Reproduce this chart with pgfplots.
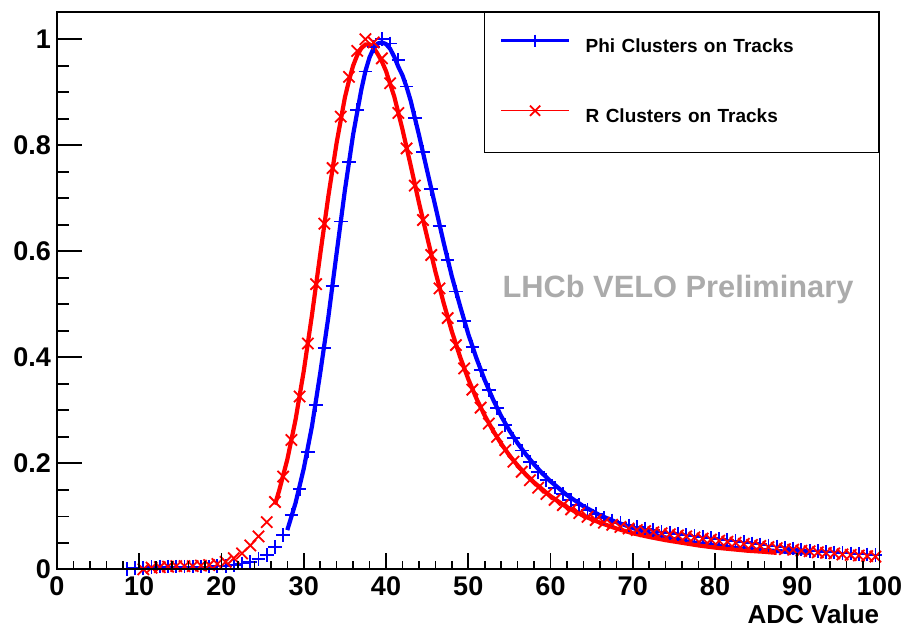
\documentclass[border=0pt]{standalone}
\usepackage{pgfplots}
\usepackage{pgfplotstable}
\pgfplotsset{compat=1.18}
\usepackage{fontspec}
\setmainfont{Liberation Sans}

\pgfplotstableread{
x y
8.5 0.001
9.5 0.002
10.5 0.003
11.5 0.004
12.5 0.005
13.5 0.005
14.5 0.005
15.5 0.005
16.5 0.005
17.5 0.005
18.5 0.005
19.5 0.006
20.5 0.006
21.5 0.008
22.5 0.011
23.5 0.014
24.5 0.020
25.5 0.027
26.5 0.042
27.5 0.065
28.5 0.102
29.5 0.152
30.5 0.222
31.5 0.310
32.5 0.418
33.5 0.535
34.5 0.656
35.5 0.769
36.5 0.867
37.5 0.939
38.5 0.986
39.5 1.000
40.5 0.992
41.5 0.961
42.5 0.911
43.5 0.851
44.5 0.787
45.5 0.718
46.5 0.648
47.5 0.584
48.5 0.524
49.5 0.469
50.5 0.420
51.5 0.376
52.5 0.338
53.5 0.304
54.5 0.272
55.5 0.247
56.5 0.224
57.5 0.203
58.5 0.184
59.5 0.168
60.5 0.154
61.5 0.142
62.5 0.131
63.5 0.121
64.5 0.112
65.5 0.104
66.5 0.097
67.5 0.092
68.5 0.087
69.5 0.083
70.5 0.080
71.5 0.077
72.5 0.074
73.5 0.071
74.5 0.069
75.5 0.067
76.5 0.065
77.5 0.063
78.5 0.061
79.5 0.059
80.5 0.057
81.5 0.055
82.5 0.053
83.5 0.051
84.5 0.049
85.5 0.047
86.5 0.045
87.5 0.043
88.5 0.041
89.5 0.039
90.5 0.037
91.5 0.035
92.5 0.034
93.5 0.033
94.5 0.032
95.5 0.031
96.5 0.030
97.5 0.029
98.5 0.028
99.5 0.027
}\phidata

\pgfplotstableread{
x y
10.5 0.000
11.5 0.003
12.5 0.004
13.5 0.005
14.5 0.006
15.5 0.006
16.5 0.006
17.5 0.007
18.5 0.008
19.5 0.010
20.5 0.014
21.5 0.021
22.5 0.030
23.5 0.045
24.5 0.062
25.5 0.089
26.5 0.127
27.5 0.175
28.5 0.244
29.5 0.326
30.5 0.426
31.5 0.538
32.5 0.652
33.5 0.757
34.5 0.854
35.5 0.929
36.5 0.978
37.5 1.000
38.5 0.994
39.5 0.964
40.5 0.917
41.5 0.861
42.5 0.794
43.5 0.724
44.5 0.659
45.5 0.593
46.5 0.530
47.5 0.474
48.5 0.423
49.5 0.379
50.5 0.339
51.5 0.305
52.5 0.275
53.5 0.250
54.5 0.225
55.5 0.203
56.5 0.184
57.5 0.168
58.5 0.154
59.5 0.142
60.5 0.131
61.5 0.121
62.5 0.113
63.5 0.106
64.5 0.099
65.5 0.093
66.5 0.088
67.5 0.084
68.5 0.080
69.5 0.077
70.5 0.074
71.5 0.072
72.5 0.070
73.5 0.068
74.5 0.066
75.5 0.064
76.5 0.062
77.5 0.060
78.5 0.058
79.5 0.056
80.5 0.054
81.5 0.052
82.5 0.050
83.5 0.048
84.5 0.046
85.5 0.044
86.5 0.042
87.5 0.040
88.5 0.038
89.5 0.037
90.5 0.035
91.5 0.034
92.5 0.032
93.5 0.031
94.5 0.030
95.5 0.028
96.5 0.027
97.5 0.026
98.5 0.025
99.5 0.024
}\rdata

\pgfplotstableread{
x y
28 0.074
29 0.125
30 0.190
31 0.270
32 0.370
33 0.477
34 0.597
35 0.715
36 0.820
37 0.905
37.5 0.940
38 0.966
38.5 0.983
39 0.992
39.5 0.994
40 0.991
40.5 0.982
41 0.967
41.5 0.948
42 0.932
42.5 0.910
43 0.884
44 0.820
45 0.752
46 0.685
47 0.617
48 0.553
49 0.497
50 0.444
51 0.398
52 0.357
53 0.321
54 0.289
55 0.262
56 0.238
57 0.217
58 0.198
59 0.181
60 0.166
62 0.140
64 0.119
66 0.102
68 0.089
70 0.078
72 0.068
74 0.060
76 0.054
78 0.049
80 0.045
82 0.041
84 0.038
86 0.036
88 0.034
90 0.032
91.5 0.031
}\phifit

\pgfplotstableread{
x y
26.5 0.122
27 0.148
28 0.207
29 0.282
30 0.374
31 0.480
32 0.594
33 0.705
34 0.805
35 0.890
35.5 0.922
36 0.950
36.5 0.970
37 0.983
37.5 0.990
38 0.990
38.5 0.984
39 0.972
39.5 0.958
40 0.940
41 0.892
42 0.830
43 0.762
44 0.692
45 0.627
46 0.562
47 0.503
48 0.449
49 0.401
50 0.359
51 0.322
52 0.290
53 0.262
54 0.237
55 0.215
56 0.196
57 0.179
58 0.164
60 0.138
62 0.117
64 0.101
66 0.088
68 0.077
70 0.068
72 0.061
74 0.055
76 0.050
78 0.045
80 0.041
82 0.038
84 0.035
86 0.033
87.5 0.031
}\rfit

\pgfplotsset{
  rootaxis/.style={
    at={(28.5pt,28.85pt)}, anchor=south west,
    scale only axis, width=411.25pt, height=278.8pt,
    xmin=0, xmax=100, ymin=0, ymax=1.052,
    axis line style={line width=0.9pt},
    tick align=inside,
    every tick/.style={black, line width=0.8pt},
    /pgf/number format/assume math mode=true,
    tick label style={font=\bfseries\fontsize{13.5}{15}\selectfont},
  }
}

\begin{document}
\begin{tikzpicture}
\useasboundingbox (0,0) rectangle (451.5pt,313.5pt);
% axis with y ticks, plots and legend
\begin{axis}[rootaxis,
  xtick=\empty,
  ytick={0,0.2,0.4,0.6,0.8,1},
  minor y tick num=3,
  ytick pos=left,
  major tick length=12.35pt,
  minor tick length=6.2pt,
  yticklabel style={xshift=0.5pt},
  legend style={at={(rel axis cs:1,1)}, anchor=north east, draw=black,
    line width=0.8pt, fill=white, inner xsep=7.5pt, inner ysep=0pt,
    column sep=7.5pt, row sep=0pt,
    font=\bfseries\fontsize{9.5}{11}\selectfont,
    nodes={inner sep=0pt, text width=139pt, minimum height=35pt, align=left}},
  legend cell align=left,
  legend image code/.code={\draw[mark repeat=2,mark phase=2,#1] plot coordinates {(0pt,3.4pt) (17pt,3.4pt) (34pt,3.4pt)};},
]
\addplot[forget plot, only marks, blue, mark=+, mark size=3.4pt, mark options={line width=0.9pt}] table {\phidata};
\addplot[forget plot, only marks, red, mark=x, mark size=4pt, mark options={line width=0.9pt}] table {\rdata};
\addplot[forget plot, blue, line width=2.1pt, no markers] table {\phifit};
\addplot[forget plot, red, line width=2.1pt, no markers] table {\rfit};
\addlegendimage{blue, line width=1.6pt, mark=+, mark size=3pt, mark options={line width=0.9pt}}
\addlegendentry{Phi Clusters on Tracks}
\addlegendimage{red, line width=0.6pt, mark=x, mark size=3.6pt, mark options={line width=0.9pt}}
\addlegendentry{R Clusters on Tracks}
\node[font=\bfseries\fontsize{15.4}{18}\selectfont, text=black!33] at (axis cs:75.5,0.527) {LHCb VELO Preliminary};
\end{axis}
% axis with x ticks and label
\begin{axis}[rootaxis,
  ytick=\empty,
  xtick={0,10,...,100},
  minor x tick num=4,
  xtick pos=left,
  major tick length=8pt,
  minor tick length=4pt,
  xlabel={ADC Value},
  xlabel style={at={(rel axis cs:1,0)}, anchor=base east, yshift=-26.85pt,
    font=\bfseries\fontsize{13}{15}\selectfont, inner sep=0pt},
]
\end{axis}
\end{tikzpicture}
\end{document}
